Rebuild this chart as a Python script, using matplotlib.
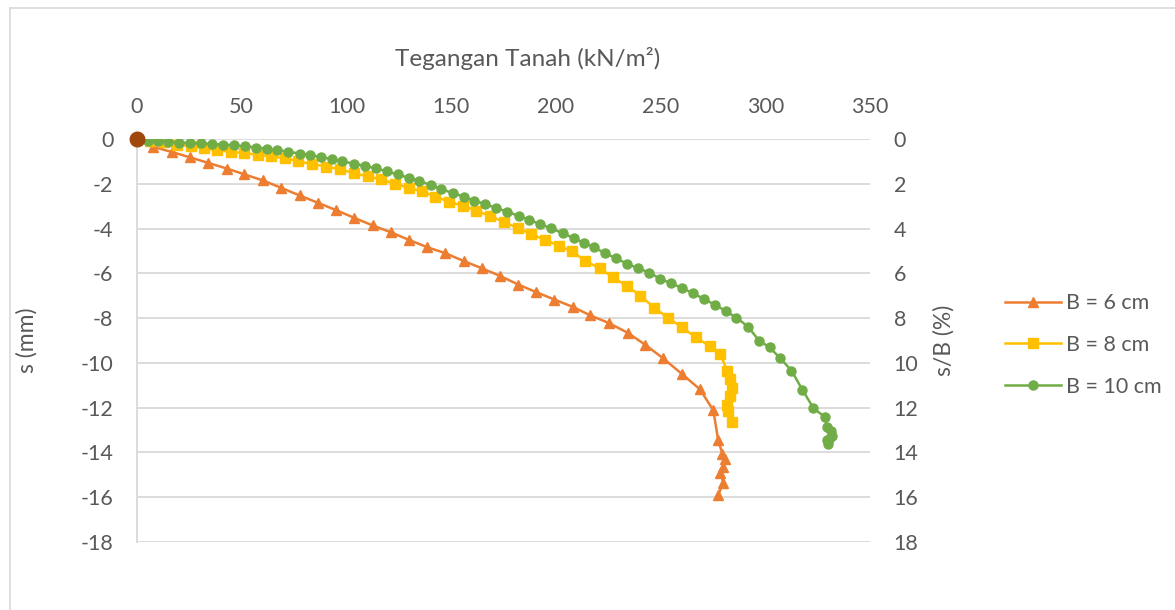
import matplotlib
matplotlib.use("Agg")
import matplotlib.pyplot as plt
from matplotlib.lines import Line2D

plt.rcParams['font.family'] = ['Lato', 'DejaVu Sans']
plt.rcParams['axes.unicode_minus'] = False

# Soil stress (kN/m2) versus settlement (mm) for three footing widths
stress_b6 = [0, 7.8, 16.6, 25.3, 34.1, 42.9, 51.3, 60.1, 68.8, 77.6, 86.4, 95.1,
             103.7, 112.5, 121.3, 129.7, 138.5, 147.2, 156.0, 164.8, 173.5, 182.0,
             190.6, 199.3, 208.1, 216.5, 225.3, 234.4, 242.8, 251.3, 260.0, 268.8,
             275.2, 277.5, 279.5, 281.0, 280.0, 278.5, 280.0, 277.5]
settle_b6 = [0, -0.35, -0.58, -0.82, -1.07, -1.32, -1.58, -1.85, -2.18, -2.52, -2.85,
             -3.18, -3.52, -3.86, -4.17, -4.50, -4.83, -5.10, -5.45, -5.78, -6.12,
             -6.50, -6.84, -7.17, -7.50, -7.88, -8.22, -8.66, -9.20, -9.80, -10.48,
             -11.18, -12.12, -13.45, -14.05, -14.30, -14.65, -14.90, -15.35, -15.90]

stress_b8 = [0, 6.4, 12.8, 19.2, 25.6, 32.0, 38.4, 44.8, 51.2, 57.6, 64.0, 70.7,
             77.1, 83.5, 90.3, 96.7, 103.4, 110.1, 116.5, 123.0, 129.7, 136.1, 142.4,
             148.8, 155.5, 162.0, 168.7, 175.1, 181.8, 188.2, 194.7, 201.4, 207.8,
             214.1, 221.0, 227.4, 234.1, 240.4, 247.1, 253.5, 260.0, 266.7, 273.4,
             278.6, 281.9, 283.1, 284.2, 283.1, 281.5, 282.3, 283.9]
settle_b8 = [0, -0.08, -0.15, -0.25, -0.33, -0.42, -0.50, -0.57, -0.63, -0.70, -0.78,
             -0.86, -1.00, -1.12, -1.23, -1.35, -1.52, -1.67, -1.80, -1.99, -2.18,
             -2.34, -2.57, -2.80, -2.98, -3.20, -3.45, -3.70, -3.98, -4.25, -4.50,
             -4.76, -5.02, -5.45, -5.78, -6.18, -6.58, -7.00, -7.55, -7.98, -8.40,
             -8.85, -9.25, -9.62, -10.38, -10.70, -11.12, -11.50, -11.90, -12.14, -12.62]

stress_b10 = [0, 5.4, 10.2, 15.0, 20.2, 25.3, 30.6, 35.7, 41.0, 46.4, 51.6, 56.9,
              62.0, 66.8, 72.3, 77.6, 82.7, 87.8, 93.1, 98.1, 103.4, 108.7, 114.1,
              119.4, 124.4, 129.7, 134.8, 140.5, 145.3, 150.9, 156.0, 160.8, 166.3,
              171.6, 176.7, 182.3, 187.4, 192.6, 197.9, 203.3, 208.6, 213.4, 218.1,
              223.4, 228.8, 234.1, 239.3, 244.7, 249.7, 254.8, 260.0, 265.4, 270.7,
              276.0, 281.1, 286.2, 291.7, 297.0, 302.1, 307.1, 312.5, 317.7, 323.0,
              328.4, 329.5, 331.5, 332.0, 330.5, 329.5, 330.0]
settle_b10 = [0, -0.08, -0.10, -0.12, -0.16, -0.18, -0.20, -0.22, -0.25, -0.28, -0.33,
              -0.38, -0.43, -0.49, -0.57, -0.65, -0.73, -0.81, -0.90, -1.00, -1.10,
              -1.20, -1.31, -1.45, -1.58, -1.73, -1.88, -2.06, -2.24, -2.42, -2.57,
              -2.75, -2.91, -3.09, -3.24, -3.44, -3.61, -3.81, -3.99, -4.21, -4.43,
              -4.64, -4.83, -5.10, -5.33, -5.58, -5.77, -5.97, -6.24, -6.44, -6.64,
              -6.89, -7.14, -7.41, -7.68, -7.98, -8.38, -9.00, -9.31, -9.79, -10.34,
              -11.20, -12.02, -12.42, -12.85, -13.05, -13.25, -13.40, -13.45, -13.62]

origin_stress = [0]
origin_settle = [0]

x_ticks = [0, 50, 100, 150, 200, 250, 300, 350]
y_ticks = [0, -2, -4, -6, -8, -10, -12, -14, -16, -18]
ratio_ticks = [0, 2, 4, 6, 8, 10, 12, 14, 16, 18]

labels = ['B = 6 cm', 'B = 8 cm', 'B = 10 cm']
colors = ['#ED7D31', '#FFC000', '#70AD47']
markers = ['^', 's', 'o']
text_color = '#595959'
grid_color = '#D9D9D9'
fs_tick = 15.5
fs_label = 16.5

W, H = 1175, 610
fig = plt.figure(figsize=(W / 100, H / 100), dpi=100)
ax = fig.add_axes([137 / W, 1 - 542 / H, (870 - 137) / W, (542 - 139) / H])

series = [(stress_b6, settle_b6), (stress_b8, settle_b8), (stress_b10, settle_b10)]
for (xs, ys), lab, col, mk in zip(series, labels, colors, markers):
    ax.plot(xs, ys, color=col, lw=1.8, marker=mk, ms=6.5, mec=col, mfc=col,
            label=lab, zorder=3)
ax.plot(origin_stress, origin_settle, 'o', color='#9E480E', ms=10.5, zorder=4,
        clip_on=False)

ax.set_xlim(0, 350)
ax.set_ylim(-18, 0)
ax.set_xticks(x_ticks)
ax.set_yticks(y_ticks)
ax.xaxis.tick_top()
ax.xaxis.set_label_position('top')
ax.set_xticklabels([str(v) for v in x_ticks])
ax.set_yticklabels([str(v) for v in y_ticks])
ax.tick_params(axis='x', length=0, pad=16, labelsize=fs_tick, labelcolor=text_color)
ax.tick_params(axis='y', length=0, pad=17, labelsize=fs_tick, labelcolor=text_color)
ax.grid(axis='y', color=grid_color, lw=1.3, zorder=0)
ax.grid(axis='x', visible=False)
for side in ['top', 'right', 'bottom']:
    ax.spines[side].set_visible(False)
ax.spines['left'].set_color(grid_color)
ax.spines['left'].set_linewidth(1.3)

ax.set_xlabel('Tegangan Tanah (kN/m²)', fontsize=17.5, color=text_color)
ax.xaxis.set_label_coords(0.533, 1.18)
ax.set_ylabel('s (mm)', fontsize=fs_label, color=text_color)
ax.yaxis.set_label_coords(-0.136, 0.5)

ax2 = ax.twinx()
ax2.set_ylim(18, 0)
ax2.set_yticks(ratio_ticks)
ax2.set_yticklabels([str(v) for v in ratio_ticks])
ax2.tick_params(axis='y', length=0, pad=17, labelsize=fs_tick, labelcolor=text_color)
for side in ['top', 'right', 'bottom', 'left']:
    ax2.spines[side].set_visible(False)
ax2.set_ylabel('s/B (%)', fontsize=fs_label, color=text_color, rotation=90)
ax2.yaxis.set_label_coords(1.086, 0.5)

handles = [Line2D([], [], color=c, lw=1.8, marker=m, ms=6.5) for c, m in zip(colors, markers)]
fig.legend(handles, labels, loc='center left', bbox_to_anchor=(990 / W, 1 - 345 / H),
           frameon=False, fontsize=fs_tick, labelcolor=text_color, handlelength=2.6,
           handletextpad=0.25, labelspacing=1.0, borderpad=0.2)

# Chart area outline
fig.add_artist(Line2D([10 / W, 10 / W], [0, 1 - 8 / H], transform=fig.transFigure,
                      color=grid_color, lw=1.2))
fig.add_artist(Line2D([10 / W, 1], [1 - 8 / H, 1 - 8 / H], transform=fig.transFigure,
                      color=grid_color, lw=1.2))

fig.savefig('out.png', dpi=100)
